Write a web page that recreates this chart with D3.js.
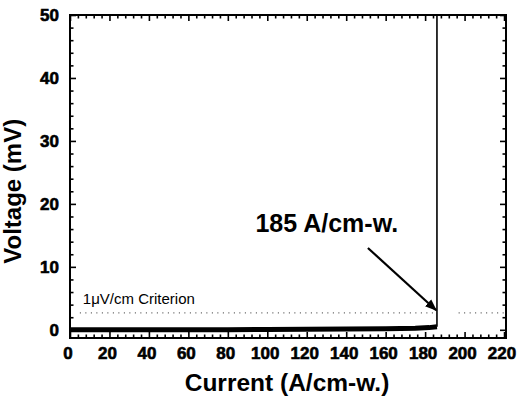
<!DOCTYPE html>
<html>
<head>
<meta charset="utf-8">
<script src="https://cdn.jsdelivr.net/npm/d3@7"></script>
<style>
  body { margin: 0; background: #fff; }
  svg text { font-family: "Liberation Sans", Arial, sans-serif; fill: #000; }
  .tick-label { font-size: 17px; font-weight: bold; stroke: #000; stroke-width: 0.6px; }
  .title { font-weight: bold; }
</style>
</head>
<body>
<div id="chart"></div>
<script>
// measured I-V trace (current in A/cm-w., voltage in mV)
const currents = [0, 20, 40, 60, 80, 100, 120, 140, 160, 175, 182, 186, 186];
const voltages = [0, 0, 0, 0.02, 0.03, 0.05, 0.08, 0.12, 0.18, 0.25, 0.35, 0.5, 52];

// 1 uV/cm criterion level, drawn as two dotted pieces
const criterionLevel = 2.7;
const criterionPieces = [[5, 185], [197, 221]];

const xTicks = [0, 20, 40, 60, 80, 100, 120, 140, 160, 180, 200, 220];
const yTicks = [0, 10, 20, 30, 40, 50];

const annotationText = '185 A/cm-w.';
const criterionText = '1\u03bcV/cm Criterion';

const margin = { top: 15, right: 18, bottom: 67, left: 70 };
const W = 524;
const H = 405;
const width = W - margin.left - margin.right;
const height = H - margin.top - margin.bottom;

const svg = d3.select('#chart')
  .append('svg')
  .attr('width', W)
  .attr('height', H);

const defs = svg.append('defs');
defs.append('marker')
  .attr('id', 'head')
  .attr('viewBox', '0 0 10 10')
  .attr('refX', 9)
  .attr('refY', 5)
  .attr('markerWidth', 5.5)
  .attr('markerHeight', 5.5)
  .attr('orient', 'auto')
  .append('path')
  .attr('d', 'M0,1.2 L10,5 L0,8.8 Z')
  .attr('fill', '#000');

defs.append('clipPath')
  .attr('id', 'plotClip')
  .append('rect')
  .attr('x', 0)
  .attr('y', 0)
  .attr('width', width)
  .attr('height', height);

const g = svg.append('g')
  .attr('transform', `translate(${margin.left},${margin.top})`);

const x = d3.scaleLinear().domain([0, 221]).range([0, width]);
const y = d3.scaleLinear().domain([-1.3, 50]).range([height, 0]);

// minor ticks (inward on all four sides)
const xMinor = d3.range(0, 221, 4).filter(v => v % 20 !== 0);
const yMinor = d3.range(0, 50, 2).filter(v => v % 10 !== 0);

function inwardAxis(axisFn, scale, values, size, transform) {
  const a = axisFn(scale).tickValues(values).tickSize(size).tickFormat('');
  g.append('g')
    .attr('class', 'ticks')
    .attr('transform', transform)
    .call(a)
    .call(s => s.select('.domain').remove())
    .call(s => s.selectAll('line').attr('stroke', '#000').attr('stroke-width', 1.6));
}

inwardAxis(d3.axisTop, x, xTicks, 6, `translate(0,${height})`);
inwardAxis(d3.axisTop, x, xMinor, 3.5, `translate(0,${height})`);
inwardAxis(d3.axisBottom, x, xTicks, 6, 'translate(0,0)');
inwardAxis(d3.axisBottom, x, xMinor, 3.5, 'translate(0,0)');
inwardAxis(d3.axisRight, y, yTicks, 6, 'translate(0,0)');
inwardAxis(d3.axisRight, y, yMinor, 3.5, 'translate(0,0)');
inwardAxis(d3.axisLeft, y, yTicks, 6, `translate(${width},0)`);
inwardAxis(d3.axisLeft, y, yMinor, 3.5, `translate(${width},0)`);

// tick labels
g.append('g').selectAll('text')
  .data(xTicks)
  .enter()
  .append('text')
  .attr('class', 'tick-label')
  .attr('x', d => x(d) - 2)
  .attr('y', height + 21)
  .attr('text-anchor', 'middle')
  .text(d => d);

g.append('g').selectAll('text')
  .data(yTicks)
  .enter()
  .append('text')
  .attr('class', 'tick-label')
  .attr('x', -11)
  .attr('y', d => y(d) + 6)
  .attr('text-anchor', 'end')
  .text(d => d);

// criterion dotted line
const plot = g.append('g').attr('clip-path', 'url(#plotClip)');

plot.selectAll('line.crit')
  .data(criterionPieces)
  .enter()
  .append('line')
  .attr('class', 'crit')
  .attr('x1', d => x(d[0]))
  .attr('x2', d => x(d[1]))
  .attr('y1', y(criterionLevel))
  .attr('y2', y(criterionLevel))
  .attr('stroke', '#555')
  .attr('stroke-width', 1.2)
  .attr('stroke-dasharray', '1,4.5');

// data trace: thick flat part plus sharp transition
const pts = currents.map((c, i) => ({ c, v: voltages[i] }));
const flat = pts.slice(0, pts.length - 1);

plot.append('path')
  .datum(flat)
  .attr('fill', 'none')
  .attr('stroke', '#000')
  .attr('stroke-width', 5)
  .attr('d', d3.line().x(d => x(d.c)).y(d => y(d.v)));

plot.append('path')
  .datum(pts.slice(pts.length - 2))
  .attr('fill', 'none')
  .attr('stroke', '#000')
  .attr('stroke-width', 1.6)
  .attr('d', d3.line().x(d => x(d.c)).y(d => y(d.v)));

// frame
g.append('rect')
  .attr('x', 0)
  .attr('y', 0)
  .attr('width', width)
  .attr('height', height)
  .attr('fill', 'none')
  .attr('stroke', '#000')
  .attr('stroke-width', 2);

// annotations
g.append('text')
  .attr('x', x(6.5))
  .attr('y', y(criterionLevel) - 9)
  .attr('font-size', 15)
  .text(criterionText);

g.append('text')
  .attr('class', 'title')
  .attr('font-size', 25)
  .attr('x', x(94))
  .attr('y', y(15.5))
  .text(annotationText);

g.append('line')
  .attr('x1', x(151))
  .attr('y1', y(13.0))
  .attr('x2', x(185.6))
  .attr('y2', y(3.1))
  .attr('stroke', '#000')
  .attr('stroke-width', 2.2)
  .attr('marker-end', 'url(#head)');

// axis titles
svg.append('text')
  .attr('class', 'title')
  .attr('font-size', 24.5)
  .attr('x', margin.left + x(110))
  .attr('y', 391)
  .attr('text-anchor', 'middle')
  .text('Current (A/cm-w.)');

svg.append('text')
  .attr('class', 'title')
  .attr('font-size', 24)
  .attr('transform', `translate(21,${margin.top + y(22)}) rotate(-90)`)
  .attr('text-anchor', 'middle')
  .text('Voltage (mV)');
</script>
</body>
</html>
